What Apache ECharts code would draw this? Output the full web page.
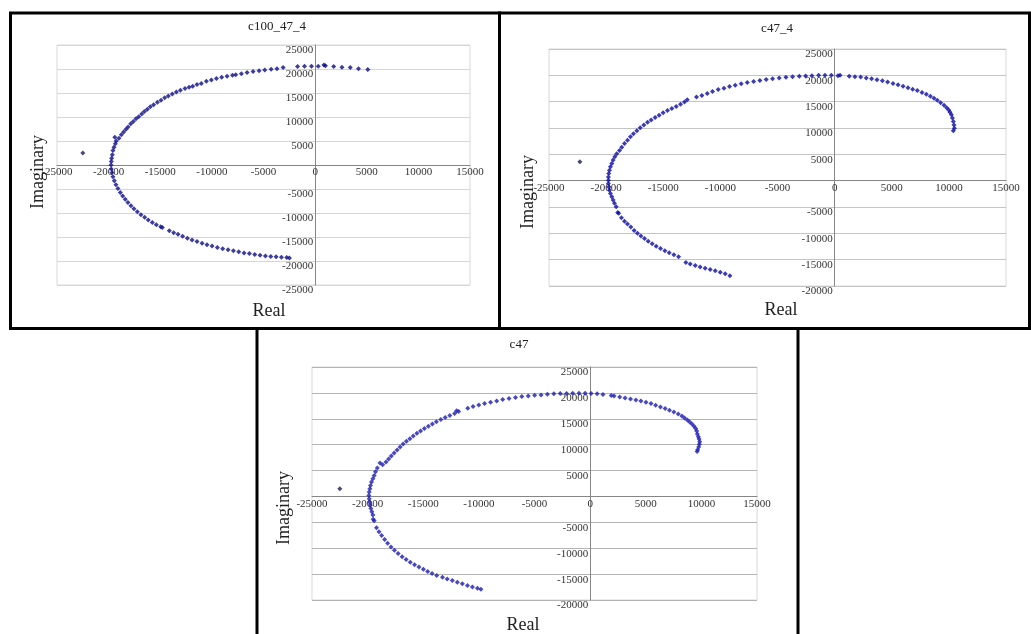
<!DOCTYPE html>
<html>
<head>
<meta charset="utf-8">
<script src="https://cdn.jsdelivr.net/npm/echarts@6/dist/echarts.min.js"></script>
<style>
  html, body { margin: 0; padding: 0; background: #fff; }
  #chart { width: 1031px; height: 634px; }
</style>
</head>
<body>
<div id="chart"></div>
<script>
// panel titles
var titles = ['c100_47_4', 'c47_4', 'c47'];

// [real, imaginary]
var c100_47_4 = [
  [5100,19900],[4200,20070],[3400,20300],[2600,20350],[1800,20500],[1000,20700],[850,20850],
  [300,20570],[-350,20570],[-1030,20570],[-1700,20500],[-3100,20300],[-3700,20070],[-4260,19930],
  [-4880,19800],[-5430,19640],[-6010,19500],[-6590,19290],[-7140,19000],[-7690,18790],[-8000,18700],
  [-8530,18500],[-9050,18290],[-9560,18000],[-10050,17710],[-10530,17430],[-11020,17000],[-11440,16790],
  [-11860,16430],[-12210,16210],[-12600,15930],[-13050,15570],[-13440,15210],[-13830,14790],[-14220,14360],
  [-14570,14000],[-14930,13500],[-15280,13070],[-15640,12570],[-15960,12140],[-16250,11640],[-16540,11140],
  [-16800,10640],[-17090,10070],[-17350,9640],[-17610,9070],[-17860,8570],[-18120,7930],[-18320,7430],
  [-18550,6860],[-18770,6290],[-19000,5570],[-19260,5000],[-19400,5800],[-19350,4430],[-19480,3710],
  [-19580,3000],[-19640,2140],[-19710,1430],[-19740,710],[-19770,0],
  [-19740,-820],[-19680,-1630],[-19580,-2450],[-19450,-3270],[-19290,-4090],[-19100,-4900],[-18870,-5720],
  [-18640,-6470],[-18390,-7150],[-18130,-7830],[-17840,-8510],[-17550,-9130],[-17220,-9740],[-16870,-10350],
  [-16510,-10900],[-16160,-11440],[-15770,-11990],[-15380,-12470],[-14960,-12870],[-14800,-13000],
  [-14120,-13690],[-13700,-14100],[-13280,-14440],[-12830,-14850],[-12370,-15260],[-11920,-15600],
  [-11440,-15940],[-10950,-16280],[-10470,-16620],[-9980,-16890],[-9470,-17170],[-8950,-17440],
  [-8430,-17640],[-7920,-17850],[-7400,-18050],[-6880,-18320],[-6370,-18460],[-5850,-18660],[-5330,-18800],
  [-4810,-18940],[-4300,-19070],[-3780,-19140],[-3260,-19210],[-2750,-19280],[-2490,-19350]
];

var c47_4 = [
  [10390,9500],[10480,9940],[10450,10580],[10390,11220],[10310,11920],[10220,12500],[10100,13010],
  [9990,13400],[9810,13850],[9580,14300],[9280,14810],[8990,15260],[8700,15640],[8380,16030],
  [8030,16410],[7650,16730],[7240,17110],[6830,17370],[6420,17630],[5990,17950],[5550,18200],
  [5110,18460],[4640,18720],[4180,18970],[3710,19170],[3240,19360],[2770,19490],[2280,19680],
  [1780,19740],[1280,19810],[470,20000],[290,19940],[-290,20000],[-850,20000],[-1400,20000],
  [-1990,19940],[-2540,19870],[-3090,19810],[-3680,19740],[-4260,19620],[-4850,19490],[-5430,19360],
  [-5990,19230],[-6540,19040],[-7090,18850],[-7650,18650],[-8180,18400],[-8700,18140],[-9200,17880],
  [-9690,17560],[-10190,17310],[-10690,16920],[-11150,16540],[-11620,16150],[-12090,15900],
  [-12900,15380],[-13140,14940],[-13490,14490],[-13870,14100],[-14250,13720],[-14630,13330],
  [-15010,12880],[-15360,12440],[-15710,11990],[-16060,11540],[-16380,11090],[-16700,10580],
  [-17020,10060],[-17310,9490],[-17610,8910],[-17870,8330],[-18130,7690],[-18390,7050],[-18630,6350],
  [-18830,5710],[-19070,5130],[-19240,4550],[-19390,3910],[-19500,3270],[-19620,2630],[-19710,1990],
  [-19770,1350],[-19800,710],[-19800,60],
  [-19800,-560],[-19770,-1190],[-19710,-1810],[-19620,-2440],[-19500,-3060],[-19390,-3690],
  [-19270,-4310],[-19120,-4940],[-18980,-6060],[-18900,-6200],[-18660,-7060],[-18390,-7690],
  [-18130,-8250],[-17840,-8810],[-17550,-9440],[-17260,-10000],[-16960,-10500],[-16640,-11000],
  [-16320,-11500],[-15970,-12000],[-15620,-12440],[-15240,-12880],[-14860,-13310],[-14480,-13690],
  [-14070,-14060],[-13660,-14440],[-13020,-15560],[-12640,-15810],[-12200,-16120],[-11770,-16370],
  [-11330,-16620],[-10890,-16870],[-10450,-17120],[-10010,-17370],[-9580,-17690],[-9170,-18060]
];

var c47 = [
  [9610,8700],[9670,9030],[9760,9550],[9820,10060],[9850,10580],[9790,11100],[9730,11550],
  [9640,12060],[9580,12650],[9490,13100],[9340,13550],[9160,14000],[8950,14390],[8740,14770],
  [8490,15160],[8250,15550],[7920,15940],[7530,16320],[7130,16650],[6740,16970],[6320,17290],
  [5890,17610],[5470,17940],[5020,18190],[4560,18450],[4110,18650],[3630,18840],[3140,19030],
  [2660,19230],[2150,19420],[1900,19480],[1150,19680],[630,19810],[90,19870],[-450,19940],
  [-1000,19940],[-1570,19940],[-2120,19870],[-2690,19870],[-3260,19810],[-3840,19740],[-4410,19610],
  [-4990,19550],[-5560,19420],[-6140,19290],[-6710,19100],[-7290,18900],[-7860,18710],[-8400,18450],
  [-8950,18190],[-9490,17940],[-10010,17680],[-10520,17350],[-11000,17030],[-11820,16390],
  [-12000,16550],[-12180,16000],[-12610,15610],[-13030,15230],[-13420,14840],[-13820,14450],
  [-14180,14000],[-14540,13550],[-14900,13100],[-15240,12650],[-15570,12190],[-15900,11680],
  [-16200,11160],[-16510,10650],[-16810,10130],[-17080,9550],[-17350,8970],[-17620,8390],
  [-17870,7810],[-18110,7230],[-18350,6650],[-18650,6130],[-18890,6450],[-19130,5480],[-19290,4770],
  [-19410,4060],[-19530,3420],[-19650,2770],[-19740,2130],[-19800,1480],[-19860,840],[-19890,190],
  [-19860,-440],[-19830,-1060],[-19770,-1690],[-19710,-2310],[-19620,-2940],[-19530,-3560],
  [-19410,-4690],[-19500,-4400],[-19200,-6060],[-18980,-6810],[-18740,-7560],[-18470,-8310],
  [-18200,-9060],[-17900,-9750],[-17590,-10380],[-17260,-11000],[-16900,-11630],[-16540,-12190],
  [-16170,-12690],[-15780,-13190],[-15390,-13630],[-14990,-14060],[-14600,-14500],[-14210,-14880],
  [-13790,-15250],[-13270,-15630],[-12850,-15940],[-12390,-16250],[-11940,-16560],[-11490,-16880],
  [-11030,-17190],[-10580,-17500],[-10130,-17750],[-9820,-17940]
];

// the lone first point in each panel
var firstPoints = [[-22500, 2500], [-22300, 3600], [-22500, 1500]];

var panelData = [c100_47_4, c47_4, c47];
var dotColors = ['#0b0b8a', '#0a0aa5', '#1a1ab4'];
var xMin = -25000, xMax = 15000;
var yMins = [-25000, -20000, -20000];
var yMax = 25000;
var gridColors = ['#d6d6d6', '#c4c4c4', '#b4b4b4'];

var grids = [
  { left: 57, top: 45, width: 413, height: 240 },
  { left: 549, top: 49, width: 457, height: 237 },
  { left: 312, top: 367, width: 445, height: 233 }
];

var serif = '"Liberation Serif", "Times New Roman", serif';
var xAxes = [], yAxes = [], series = [];

for (var i = 0; i < 3; i++) {
  var g = grids[i];
  g.show = true;
  g.borderColor = '#d9d9d9';
  g.borderWidth = 1;
  // axes cross at zero: shift them in from the grid edges
  var zeroX = g.width * (0 - xMin) / (xMax - xMin);
  var zeroYFromBottom = g.height * (0 - yMins[i]) / (yMax - yMins[i]);
  xAxes.push({
    type: 'value', gridIndex: i, min: xMin, max: xMax, interval: 5000,
    position: 'bottom', offset: -zeroYFromBottom,
    axisLine: { onZero: false, lineStyle: { color: '#868686' } },
    axisTick: { show: false },
    splitLine: { show: false },
    axisLabel: {
      color: '#333', fontFamily: serif, fontSize: 11, margin: 2,
      showMinLabel: true, showMaxLabel: true,
      formatter: function (v) { return String(v); }
    }
  });
  yAxes.push({
    type: 'value', gridIndex: i, min: yMins[i], max: yMax, interval: 5000,
    position: 'left', offset: -zeroX,
    axisLine: { onZero: false, lineStyle: { color: '#868686' } },
    axisTick: { show: false },
    splitLine: { show: true, lineStyle: { color: gridColors[i] } },
    axisLabel: {
      color: '#333', fontFamily: serif, fontSize: 11, margin: 2, verticalAlign: 'top',
      showMinLabel: true, showMaxLabel: true,
      formatter: function (v) { return v === 0 ? '' : String(v); }
    }
  });
  series.push({
    type: 'scatter', xAxisIndex: i, yAxisIndex: i, data: panelData[i],
    symbol: 'diamond', symbolSize: 5, itemStyle: { color: dotColors[i] }
  });
  series.push({
    type: 'scatter', xAxisIndex: i, yAxisIndex: i, data: [firstPoints[i]],
    symbol: 'diamond', symbolSize: 5, itemStyle: { color: '#1a1a50' }
  });
}

function txt(x, y, s, size, rot) {
  return {
    type: 'text', x: x, y: y, rotation: rot || 0,
    style: { text: s, fill: '#222', font: size + 'px ' + serif, align: 'center', verticalAlign: 'middle' }
  };
}

var graphics = [
  { type: 'rect', shape: { x: 10.5, y: 13, width: 489, height: 315.5 }, style: { fill: 'none', stroke: '#000', lineWidth: 3 } },
  { type: 'rect', shape: { x: 499.5, y: 13, width: 530, height: 315.5 }, style: { fill: 'none', stroke: '#000', lineWidth: 3 } },
  { type: 'rect', shape: { x: 257, y: 328.5, width: 541, height: 320 }, style: { fill: 'none', stroke: '#000', lineWidth: 3 } },
  txt(277, 27, titles[0], 13), txt(777, 29, titles[1], 13), txt(519, 345, titles[2], 13),
  txt(269, 311, 'Real', 18), txt(781, 310, 'Real', 18), txt(523, 625, 'Real', 18),
  txt(38, 172, 'Imaginary', 18, Math.PI / 2), txt(528, 192, 'Imaginary', 18, Math.PI / 2),
  txt(284, 508, 'Imaginary', 18, Math.PI / 2)
];

var chart = echarts.init(document.getElementById('chart'));
chart.setOption({
  animation: false,
  backgroundColor: '#fff',
  grid: grids,
  xAxis: xAxes,
  yAxis: yAxes,
  series: series,
  graphic: graphics
});
</script>
</body>
</html>
